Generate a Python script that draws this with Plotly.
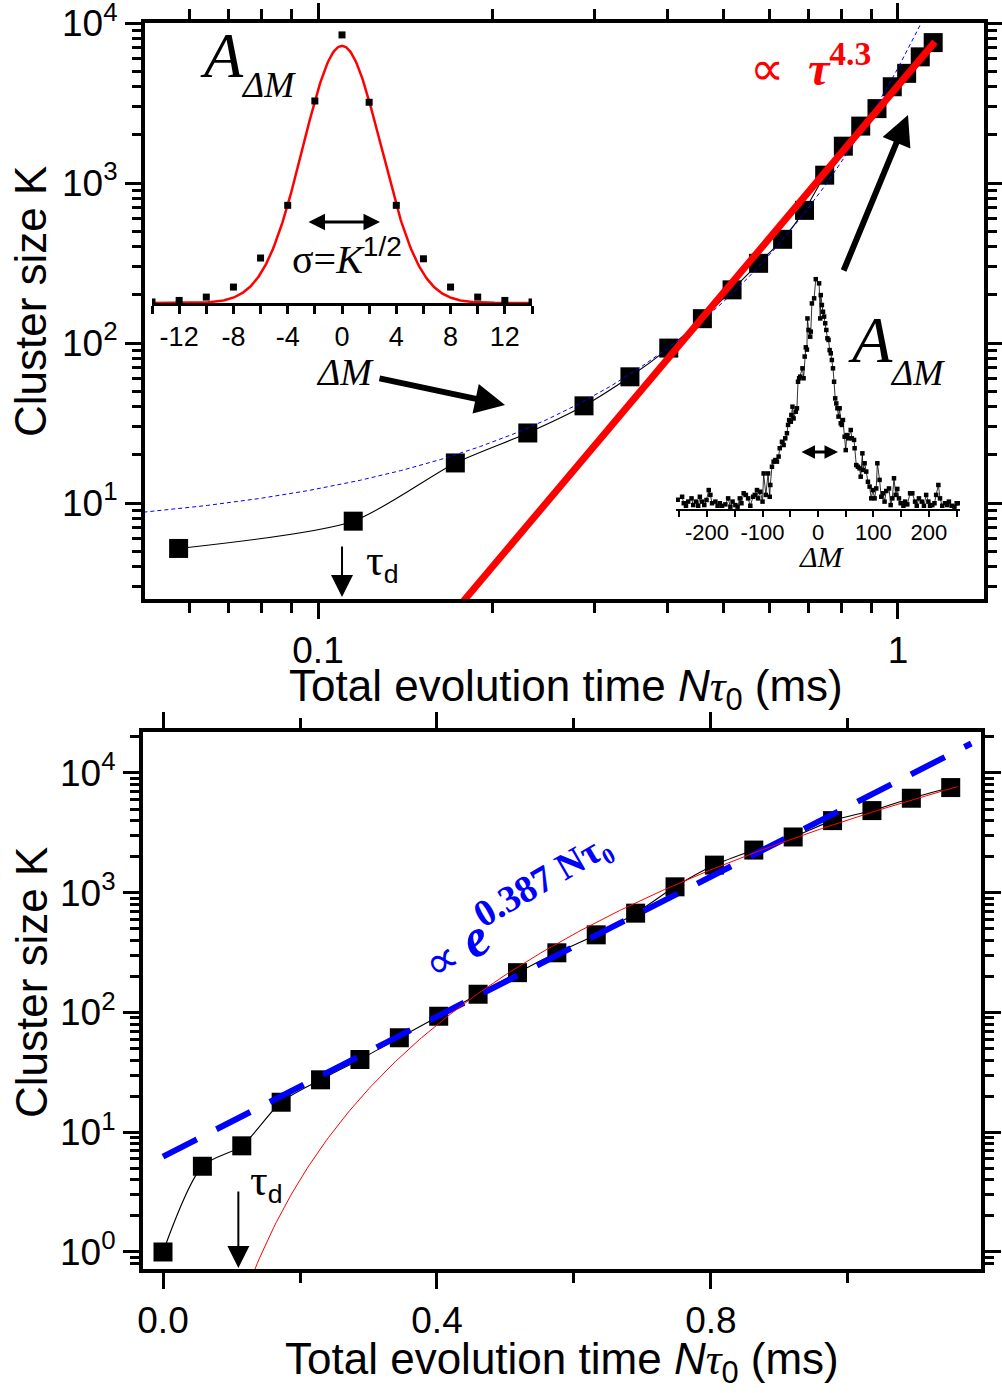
import numpy as np
import plotly.graph_objects as go

W, H = 1002, 1393

# ---------------- cluster growth data ----------------
t_ms = [0.0, 0.0575, 0.115, 0.1725, 0.23, 0.2875, 0.345, 0.4025, 0.46, 0.5175,
        0.575, 0.6325, 0.69, 0.7475, 0.805, 0.8625, 0.92, 0.9775, 1.035, 1.0925, 1.15]
K = [1.0, 5.2, 7.7, 17.8, 27.4, 40.5, 61.5, 93, 142, 215,
     315, 445, 675, 1120, 1700, 2270, 2920, 4000, 4850, 6150, 7550]

TAU_STEP = 0.0575   # one evolution step in ms
EXP_RATE = 0.387    # K ~ exp(0.387 N)
EXP_AMP = 6.26
POW_EXP = 4.3       # K ~ tau^4.3
POW_AMP = 4060.0
TAU_D = 0.11        # decoherence time (ms)

# ---------------- small-cluster distribution (inset) ----------------
dm_small = [-14, -12, -10, -8, -6, -4, -2, 0, 2, 4, 6, 8, 10, 12, 14]
a_small = [0.004, 0.010, 0.023, 0.062, 0.175, 0.38, 0.786, 1.043,
           0.781, 0.38, 0.172, 0.062, 0.023, 0.010, 0.004]
SIGMA2_SMALL = 8.3

# ---------------- large-cluster distribution (inset) ----------------
dm_large = [-253, -245, -242, -238, -234, -228, -225, -220, -216, -213, -209, -205,
            -201, -197, -194, -191, -185, -181, -177, -173, -167, -162, -158, -154,
            -149, -145, -141, -138, -134, -130, -126, -122, -117, -114, -110, -108,
            -104, -100, -98, -94, -90, -87, -86, -83, -80, -77, -74, -71, -69, -65,
            -62, -59, -56, -54, -52, -49, -48, -46, -44, -40, -38, -36, -34, -32,
            -28, -26, -24, -22, -20, -19, -17, -14, -13, -11, -7, -4, 2, 4, 5, 7,
            9, 11, 13, 15, 17, 19, 21, 23, 25, 27, 29, 31, 33, 35, 37, 39, 41, 43,
            45, 48, 50, 52, 55, 59, 61, 65, 66, 69, 72, 75, 77, 80, 81, 84, 87, 90,
            93, 96, 99, 102, 105, 107, 111, 114, 117, 120, 123, 128, 131, 134, 137,
            140, 143, 146, 149, 154, 157, 161, 166, 170, 175, 178, 182, 187, 191,
            195, 199, 202, 206, 210, 213, 217, 220, 224, 229, 233, 236, 241, 246,
            250, 253]
a_large = [4.0, 5.3, 2.5, 1.4, 3.2, 4.6, 1.7, 3.2, 1.4, 5.3, 3.2, 1.7,
           3.9, 8.2, 6.1, 2.5, 3.2, 1.4, 2.5, 1.4, 2.0, 4.6, 1.0, 3.2,
           1.7, 1.0, 4.6, 2.5, 6.8, 6.1, 4.6, 1.4, 5.3, 6.1, 8.2, 4.6,
           7.5, 3.2, 15.4, 6.1, 15.4, 5.3, 10.4, 18.3, 20.5, 21.2, 20.5, 22.7, 26.3, 29.1,
           27.7, 30.6, 32.8, 36.4, 38.5, 37.8, 40.7, 44.3, 39.2, 42.1, 43.6, 55.1, 56.6, 57.3,
           60.9, 56.6, 66.0, 70.0, 69.0, 82.5, 77.5, 74.6, 76.8, 89.0, 91.2, 99.5, 97.7, 82.5, 92.6, 88.3,
           85.4, 83.3, 80.4, 77.5, 73.9, 73.2, 68.8, 67.4, 64.5, 60.9, 55.1, 47.9, 45.7, 43.6, 40.0, 43.6, 37.1, 36.4,
           38.5, 31.3, 25.5, 32.0, 30.6, 34.2, 30.6, 29.9, 26.3, 19.0, 18.3, 17.6, 14.0, 24.1, 16.9, 19.8, 16.2, 11.8,
           9.7, 4.6, 8.2, 4.6, 8.9, 19.8, 12.6, 5.3, 6.8, 3.2, 7.8, 8.9, 1.7, 4.6, 13.3,
           6.1, 8.7, 4.6, 2.5, 1.4, 3.2, 2.0, 6.8, 6.8, 3.2, 1.4, 4.6, 3.2, 1.4,
           6.1, 3.2, 1.4, 1.7, 2.5, 6.1, 10.4, 4.6, 1.4, 2.5, 1.7, 3.2, 1.4, 1.0,
           2.5, 2.5]

small_ticks = [-12, -8, -4, 0, 4, 8, 12]
small_labels = ["-12", "-8", "-4", "0", "4", "8", "12"]
large_ticks = [-200, -100, 0, 100, 200]
large_labels = ["-200", "-100", "0", "100", "200"]

SERIF = "Liberation Serif"
SANS = "Liberation Sans"
BLUE = "#0000ff"
RED = "#ff0000"


def px(x):
    return x / W


def py(y):
    return 1 - y / H


# fit curves
t_exp = np.linspace(0.0, 1.18, 300)
k_exp = EXP_AMP * np.exp(EXP_RATE * t_exp / TAU_STEP)
t_exp_log = np.logspace(np.log10(0.05), np.log10(1.2), 300)
k_exp_log = EXP_AMP * np.exp(EXP_RATE * t_exp_log / TAU_STEP)
t_pow_top = np.logspace(np.log10(0.15), np.log10(1.158), 200)
k_pow_top = POW_AMP * t_pow_top ** POW_EXP
t_pow_bot = np.linspace(0.12, 1.16, 300)
k_pow_bot = POW_AMP * t_pow_bot ** POW_EXP
dm_fine = np.linspace(-14, 14, 400)
a_fine = np.exp(-dm_fine ** 2 / (2 * SIGMA2_SMALL))

fig = go.Figure()

sq = dict(symbol="square", color="black", size=19, line=dict(width=0))

# ---- top panel (log-log) ----
fig.add_trace(go.Scatter(x=t_ms[1:], y=K[1:], mode="lines+markers",
                         line=dict(color="black", width=1.1, shape="spline", smoothing=0.7),
                         marker=sq, xaxis="x", yaxis="y"))
fig.add_trace(go.Scatter(x=t_exp_log, y=k_exp_log, mode="lines",
                         line=dict(color=BLUE, width=1, dash="4px,3px"),
                         xaxis="x", yaxis="y"))
fig.add_trace(go.Scatter(x=t_pow_top, y=k_pow_top, mode="lines",
                         line=dict(color=RED, width=7), xaxis="x", yaxis="y"))

# ---- bottom panel (semi-log) ----
fig.add_trace(go.Scatter(x=t_ms, y=K, mode="lines+markers",
                         line=dict(color="black", width=1.1, shape="spline", smoothing=0.8),
                         marker=sq, xaxis="x2", yaxis="y2"))
fig.add_trace(go.Scatter(x=t_exp, y=k_exp, mode="lines",
                         line=dict(color=BLUE, width=6, dash="38px,22px"),
                         xaxis="x2", yaxis="y2"))
fig.add_trace(go.Scatter(x=t_pow_bot, y=k_pow_bot, mode="lines",
                         line=dict(color=RED, width=1), xaxis="x2", yaxis="y2"))

# ---- inset: small cluster distribution ----
fig.add_trace(go.Scatter(x=dm_fine, y=a_fine, mode="lines",
                         line=dict(color=RED, width=2.5), xaxis="x3", yaxis="y3"))
fig.add_trace(go.Scatter(x=dm_small, y=a_small, mode="markers",
                         marker=dict(symbol="square", color="black", size=7),
                         xaxis="x3", yaxis="y3"))

# ---- inset: large cluster distribution ----
fig.add_trace(go.Scatter(x=dm_large, y=a_large, mode="lines+markers",
                         line=dict(color="black", width=0.8),
                         marker=dict(symbol="square", color="black", size=4.5),
                         xaxis="x4", yaxis="y4"))

frame = dict(showline=True, linecolor="black", linewidth=4, mirror="allticks",
             ticks="outside", ticklen=16, tickwidth=3, tickcolor="black",
             showgrid=False, zeroline=False, automargin=False,
             ticklabeloverflow="allow",
             tickfont=dict(family=SANS, size=37, color="black"))

top_x_minor = [0.06, 0.07, 0.08, 0.09, 0.2, 0.3, 0.4, 0.5, 0.6, 0.7, 0.8, 0.9]
top_y_minor = [m * 10 ** d for d in range(0, 4) for m in range(2, 10) if m * 10 ** d > 2.6]
bot_y_minor = [m * 10.0 ** d for d in range(-1, 5) for m in range(2, 10)
               if 0.72 < m * 10.0 ** d < 21900]

fig.update_layout(
    width=W, height=H, margin=dict(l=0, r=0, t=0, b=0, autoexpand=False),
    paper_bgcolor="white", plot_bgcolor="rgba(0,0,0,0)",
    showlegend=False,
    xaxis=dict(frame, domain=[px(145), px(984)], type="log", range=[-1.2983, 0.1483],
               anchor="y", tickmode="array", tickvals=[0.1, 1], ticktext=["0.1", "1"],
               minor=dict(tickmode="array", tickvals=top_x_minor, ticks="outside",
                          ticklen=10, tickwidth=3, tickcolor="black", showgrid=False)),
    yaxis=dict(frame, domain=[py(599), py(23)], type="log", range=[0.4, 4.0005],
               anchor="x", tickmode="array", tickvals=[10, 100, 1000, 10000],
               ticktext=["10<sup>1</sup>", "10<sup>2</sup>", "10<sup>3</sup>", "10<sup>4</sup>"],
               minor=dict(tickmode="array", tickvals=top_y_minor, ticks="outside",
                          ticklen=9, tickwidth=3, tickcolor="black", showgrid=False)),
    xaxis2=dict(frame, domain=[px(143), px(981)], range=[-0.0292, 1.1942],
                anchor="y2", tickmode="array", tickvals=[0, 0.4, 0.8],
                ticktext=["0.0", "0.4", "0.8"],
                minor=dict(tickmode="array", tickvals=[0.2, 0.6, 1.0], ticks="outside",
                           ticklen=10, tickwidth=3, tickcolor="black", showgrid=False)),
    yaxis2=dict(frame, domain=[py(1269), py(732)], type="log", range=[-0.142, 4.342],
                anchor="x2", tickmode="array", tickvals=[1, 10, 100, 1000, 10000],
                ticktext=["10<sup>0</sup>", "10<sup>1</sup>", "10<sup>2</sup>",
                          "10<sup>3</sup>", "10<sup>4</sup>"],
                minor=dict(tickmode="array", tickvals=bot_y_minor, ticks="outside",
                           ticklen=9, tickwidth=3, tickcolor="black", showgrid=False)),
    xaxis3=dict(domain=[px(152), px(532)], range=[-14, 14], anchor="y3",
                showline=True, linecolor="black", linewidth=2.5, ticks="outside",
                ticklen=8, tickwidth=2.5, tickcolor="black", showgrid=False, zeroline=False,
                automargin=False,
                tickmode="array", tickvals=small_ticks, ticktext=small_labels,
                tickfont=dict(family=SANS, size=27, color="black"),
                minor=dict(tickmode="array", tickvals=[-14, -10, -6, -2, 2, 6, 10, 14],
                           ticks="outside", ticklen=8, tickwidth=2.5, tickcolor="black",
                           showgrid=False)),
    yaxis3=dict(domain=[py(303), py(20)], range=[0, 1.101], anchor="x3", visible=False,
                automargin=False),
    xaxis4=dict(domain=[px(676), px(960)], range=[-256, 256], anchor="y4",
                showline=True, linecolor="black", linewidth=2, ticks="outside",
                ticklen=6, tickwidth=2, tickcolor="black", showgrid=False, zeroline=False,
                automargin=False, ticklabelstandoff=-3,
                tickmode="array", tickvals=large_ticks, ticktext=large_labels,
                tickfont=dict(family=SANS, size=22, color="black"),
                minor=dict(tickmode="array", tickvals=[-250, -150, -50, 50, 150, 250],
                           ticks="outside", ticklen=6, tickwidth=2, tickcolor="black",
                           showgrid=False)),
    yaxis4=dict(domain=[py(509), py(266)], range=[0, 105.2], anchor="x4", visible=False,
                automargin=False),
)

ann = []


def text(t, x, y, size, family=SANS, color="black", xanchor="center",
         yanchor="middle", angle=0):
    ann.append(dict(text=t, x=px(x), y=py(y), xref="paper", yref="paper",
                    showarrow=False, xanchor=xanchor, yanchor=yanchor,
                    textangle=angle, font=dict(family=family, size=size, color=color)))


def arrow(xt, yt, xs, ys, width, size, head=2, side="end"):
    ann.append(dict(text="", x=px(xt), y=py(yt), xref="paper", yref="paper",
                    ax=xs - xt, ay=ys - yt, showarrow=True, arrowhead=head,
                    startarrowhead=head, arrowsize=size, startarrowsize=size,
                    arrowwidth=width, arrowcolor="black", standoff=0,
                    startstandoff=0, arrowside=side))


# axis titles
text("Cluster size K", 31, 302, 44, angle=-90)
text("Cluster size K", 31, 983, 44, angle=-90)
x_title = ("Total evolution time <i>N</i><span style='font-family:Liberation Serif'>"
           "<i>τ</i></span><sub>0</sub> (ms)")
text(x_title, 566, 689, 44)
text(x_title, 562, 1362, 44)

# inset labels
text("<i>A</i>", 222, 55, 64, family=SERIF)
text("<i>ΔM</i>", 268, 85, 36, family=SERIF)
text("σ=<i>K</i><sup><span style='font-family:Liberation Sans'>1/2</span></sup>",
     347, 256, 40, family=SERIF)
text("<i>ΔM</i>", 345, 372, 38, family=SERIF)
text("<i>A</i>", 870, 340, 66, family=SERIF)
text("<i>ΔM</i>", 917, 373, 36, family=SERIF)
text("<i>ΔM</i>", 822, 556, 30, family=SERIF)

# fit labels
text("<span style='font-size:48px'>∝</span>  <b><i>τ</i></b><sup><b>4.3</b></sup>",
     810, 65, 48, family=SERIF, color=RED)
text("<span style='font-size:46px'>∝ </span><b><i>e</i></b>"
     "<sup><b>0.387 Nτ₀</b></sup>", 518, 908, 54, family=SERIF, color=BLUE, angle=-30)

# decoherence markers
tau_d_label = ("<span style='font-family:Liberation Serif;font-size:44px'>τ</span>"
               "<sub>d</sub>")
text(tau_d_label, 382, 562, 38)
text(tau_d_label, 266, 1182, 38)
ann.append(dict(text="", x=np.log10(TAU_D), y=py(597), xref="x", yref="paper",
                ax=0, ay=-52, showarrow=True, arrowhead=2, arrowsize=2.2,
                arrowwidth=2, arrowcolor="black", standoff=0))
ann.append(dict(text="", x=TAU_D, y=py(1268), xref="x2", yref="paper",
                ax=0, ay=-78, showarrow=True, arrowhead=2, arrowsize=2.2,
                arrowwidth=2, arrowcolor="black", standoff=0))

# pointer arrows from the insets to the curve
arrow(908, 115, 843, 272, 6, 1.0)
arrow(505, 405, 378, 378, 6, 1.0)

# width markers inside the insets
arrow(380, 222, 307, 222, 3, 1.1, side="end+start")
arrow(838, 452, 800, 452, 3, 0.9, side="end+start")

fig.update_layout(annotations=ann)
fig.write_html("out.html")
